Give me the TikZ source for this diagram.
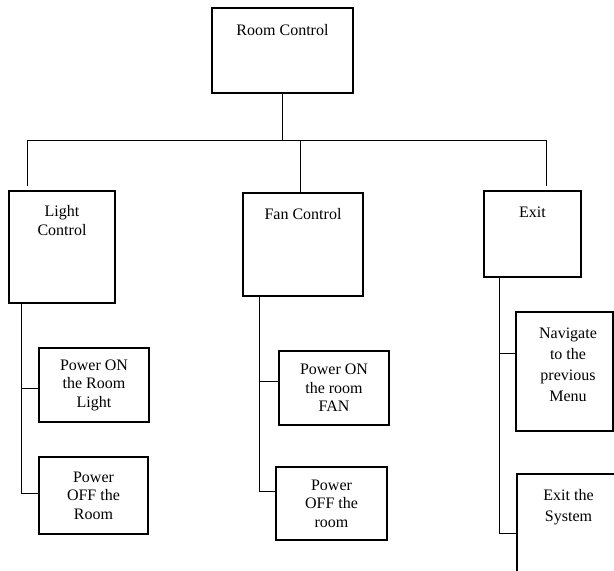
\documentclass[tikz,border=0pt]{standalone}
\usepackage{fontspec}
\setmainfont{Liberation Serif}
\usetikzlibrary{calc}
\begin{document}
\begin{tikzpicture}[x=1pt,y=-1pt,
  box/.style={draw, line width=1.3pt, inner sep=0pt},
  link/.style={line width=0.8pt},
  txt/.style={font=\fontsize{16}{19}\selectfont, align=center, inner sep=0pt},
  txtwide/.style={font=\fontsize{16}{21}\selectfont, align=center, inner sep=0pt},
  txtnarrow/.style={font=\fontsize{16}{18.5}\selectfont, align=center, inner sep=0pt},
]
\clip (0,0) rectangle (614,571);

% top level menu
\node[box, minimum width=141, minimum height=85] (room) at (282.5,50.5) {};
\node[txt, anchor=north] (roomT) at ($(room.north)+(0,17)$) {Room Control};

% second level menus
\node[box, minimum width=106, minimum height=112] (light) at (62,247) {};
\node[txt, anchor=north] (lightT) at ($(light.north)+(0,15)$) {Light\\Control};

\node[box, minimum width=120, minimum height=103] (fan) at (303,244.5) {};
\node[txt, anchor=north] (fanT) at ($(fan.north)+(0,16)$) {Fan Control};

\node[box, minimum width=97, minimum height=86] (exit) at (532.5,234) {};
\node[txt, anchor=north] (exitT) at ($(exit.north)+(0,16)$) {Exit};

% light actions
\node[box, txtnarrow, minimum width=110, minimum height=74] (lon) at (94,385) {Power ON\\the Room\\Light};
\node[box, txtnarrow, minimum width=109, minimum height=77] (loff) at (93.5,495.5) {Power\\OFF the\\Room};

% fan actions
\node[box, txtnarrow, minimum width=110, minimum height=74] (fon) at (334,388) {Power ON\\the room\\FAN};
\node[box, txtnarrow, minimum width=111, minimum height=73] (foff) at (331.5,503.5) {Power\\OFF the\\room};

% exit actions
\node[box, minimum width=97, minimum height=119] (nav) at (564.5,371.5) {};
\node[txtwide, anchor=north] (navT) at ($(nav.north)+(3.5,16)$) {Navigate\\to the\\previous\\Menu};
\node[box, minimum width=103, minimum height=116] (sys) at (568.5,532) {};
\node[txtwide, anchor=north] (sysT) at ($(sys.north)+(0,16)$) {Exit the\\System};

% bus from the top menu
\coordinate (busL) at (27,140);
\coordinate (busF) at (300,140);
\coordinate (busR) at (546,140);
\draw[link] (room.south) -- (room.south |- busL);
\draw[link] (busL) -- (busR);
\draw[link, shorten >=4pt] (busL) -- (busL |- light.north);
\draw[link] (busF) -- (busF |- fan.north);
\draw[link, shorten >=4pt] (busR) -- (busR |- exit.north);

% light branch
\coordinate (lj1) at (21,388);
\coordinate (lj2) at (21,493);
\draw[link] (lj1 |- light.south) -- (lj2) -- (lj2 -| loff.west);
\draw[link] (lj1) -- (lj1 -| lon.west);

% fan branch
\coordinate (fj1) at (259,381);
\coordinate (fj2) at (259,491);
\draw[link] (fj1 |- fan.south) -- (fj2) -- (fj2 -| foff.west);
\draw[link] (fj1) -- (fj1 -| fon.west);

% exit branch
\coordinate (ej1) at (499,353);
\coordinate (ej2) at (499,533);
\draw[link] (ej1 |- exit.south) -- (ej2) -- (ej2 -| sys.west);
\draw[link] (ej1) -- (ej1 -| nav.west);
\end{tikzpicture}
\end{document}
